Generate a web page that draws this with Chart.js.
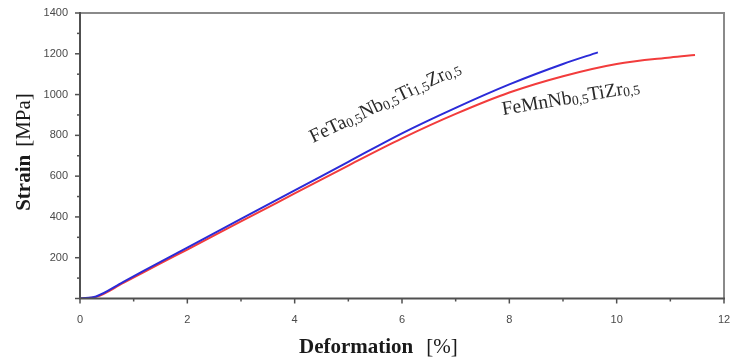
<!DOCTYPE html>
<html>
<head>
<meta charset="utf-8">
<script src="https://cdn.jsdelivr.net/npm/chart.js@4.4.1/dist/chart.umd.min.js"></script>
<style>
  html, body { margin: 0; padding: 0; background: #ffffff; }
  #wrap { width: 731px; height: 360px; position: relative; }
</style>
</head>
<body>
<div id="wrap"><canvas id="c" width="731" height="360"></canvas></div>
<script>
// ---- data ----
const seriesNames = ['FeTa0,5Nb0,5Ti1,5Zr0,5', 'FeMnNb0,5TiZr0,5'];
const blueStrainPct = [0, 0.3, 0.8, 1.5, 2, 3, 4, 5, 6, 7, 8, 9, 9.65];
const blueStressMPa = [0, 10, 80, 180, 250, 390, 530, 670, 810, 935, 1050, 1150, 1207];
const redStrainPct  = [0, 0.3, 0.8, 1.5, 2, 3, 4, 5, 6, 7, 8, 9, 10, 11, 11.46];
const redStressMPa  = [0, 8, 75, 172, 240, 378, 515, 652, 785, 905, 1010, 1090, 1150, 1182, 1194];
const xTickValues = [0, 2, 4, 6, 8, 10, 12];
const yTickValues = [200, 400, 600, 800, 1000, 1200, 1400];
const xTitle = ['Deformation', '[%]'];
const yTitle = ['Strain', '[MPa]'];
// annotation segments: [text, isSubscript]
const labelFeTa = [['FeTa', false], ['0,5', true], ['Nb', false], ['0,5', true], ['Ti', false], ['1,5', true], ['Zr', false], ['0,5', true]];
const labelFeMn = [['FeMnNb', false], ['0,5', true], ['TiZr', false], ['0,5', true]];
const labelFeTaAt = [4.34, 763];
const labelFeMnAt = [7.88, 900];

function pts(xs, ys) { return xs.map((x, i) => ({ x: x, y: ys[i] })); }

const serif = "'Liberation Serif', 'DejaVu Serif', serif";

const framePlugin = {
  id: 'frame',
  afterDraw(chart) {
    const ctx = chart.ctx;
    const a = chart.chartArea;
    const xs = chart.scales.x, ys = chart.scales.y;
    ctx.save();
    // top/right frame
    ctx.strokeStyle = '#8a8a8a';
    ctx.lineWidth = 2;
    ctx.beginPath();
    ctx.moveTo(a.left, a.top); ctx.lineTo(a.right, a.top); ctx.lineTo(a.right, a.bottom);
    ctx.stroke();
    // axes
    ctx.strokeStyle = '#505050';
    ctx.lineWidth = 2;
    ctx.beginPath();
    ctx.moveTo(a.left, a.top - 1); ctx.lineTo(a.left, a.bottom); ctx.lineTo(a.right + 1, a.bottom);
    ctx.stroke();
    // tick marks
    ctx.lineWidth = 1.5;
    xs.ticks.forEach((t, i) => {
      const p = xs.getPixelForTick(i);
      const major = xTickValues.includes(t.value);
      ctx.beginPath(); ctx.moveTo(p, a.bottom); ctx.lineTo(p, a.bottom + (major ? 5 : 3)); ctx.stroke();
    });
    ys.ticks.forEach((t, i) => {
      const p = ys.getPixelForTick(i);
      const major = t.value % 200 === 0;
      ctx.beginPath(); ctx.moveTo(a.left, p); ctx.lineTo(a.left - (major ? 5 : 3), p); ctx.stroke();
    });
    // axis titles
    ctx.fillStyle = '#1a1a1a';
    ctx.textBaseline = 'alphabetic';
    const bold = 'bold 21px ' + serif, norm = '21px ' + serif;
    ctx.font = bold; const w1 = ctx.measureText(xTitle[0]).width;
    ctx.font = norm; const gap = 13;
    let x0 = 299;
    ctx.font = bold; ctx.fillText(xTitle[0], x0, 353);
    ctx.font = norm; ctx.fillText(xTitle[1], x0 + w1 + gap, 353);
    ctx.save();
    ctx.translate(30, 152);
    ctx.rotate(-Math.PI / 2);
    ctx.font = bold; const v1 = ctx.measureText(yTitle[0]).width;
    ctx.font = norm; const v2 = ctx.measureText(yTitle[1]).width;
    const g2 = 8;
    let y0 = -(v1 + g2 + v2) / 2;
    ctx.font = bold; ctx.fillText(yTitle[0], y0, 0);
    ctx.font = norm; ctx.fillText(yTitle[1], y0 + v1 + g2, 0);
    ctx.restore();
    // curve labels
    function drawLabel(segs, at, angleDeg) {
      ctx.save();
      ctx.translate(xs.getPixelForValue(at[0]), ys.getPixelForValue(at[1]));
      ctx.rotate(angleDeg * Math.PI / 180);
      ctx.fillStyle = '#2a2a2a';
      let cx = 0;
      segs.forEach(([txt, sub]) => {
        ctx.font = (sub ? '13.5px ' : '19.5px ') + serif;
        ctx.fillText(txt, cx, sub ? 2 : 0);
        cx += ctx.measureText(txt).width;
      });
      ctx.restore();
    }
    drawLabel(labelFeTa, labelFeTaAt, -25.5);
    drawLabel(labelFeMn, labelFeMnAt, -9.5);
    ctx.restore();
  }
};

new Chart(document.getElementById('c'), {
  type: 'scatter',
  data: {
    datasets: [
      { label: seriesNames[0], data: pts(blueStrainPct, blueStressMPa), showLine: true,
        borderColor: '#2b2bd8', borderWidth: 2, pointRadius: 0, cubicInterpolationMode: 'monotone', fill: false },
      { label: seriesNames[1], data: pts(redStrainPct, redStressMPa), showLine: true,
        borderColor: '#f23c3c', borderWidth: 2, pointRadius: 0, cubicInterpolationMode: 'monotone', fill: false }
    ]
  },
  options: {
    responsive: false,
    animation: false,
    devicePixelRatio: 1,
    layout: { padding: { left: 0, right: 7, top: 13, bottom: 0 } },
    plugins: { legend: { display: false }, tooltip: { enabled: false } },
    scales: {
      x: {
        type: 'linear', min: 0, max: 12,
        grid: { display: false }, border: { display: false },
        ticks: { stepSize: 1, padding: 7, color: '#4a4a4a', maxRotation: 0, autoSkip: false,
                 font: { family: "'Liberation Sans', Arial, sans-serif", size: 11 },
                 callback: v => xTickValues.includes(v) ? String(v) : '' },
        afterFit: s => { s.height = 61.5; s.paddingLeft = 0; s.paddingRight = 0; }
      },
      y: {
        type: 'linear', min: 0, max: 1400,
        grid: { display: false }, border: { display: false },
        ticks: { stepSize: 100, padding: 4, color: '#4a4a4a', autoSkip: false,
                 font: { family: "'Liberation Sans', Arial, sans-serif", size: 11 },
                 callback: v => yTickValues.includes(v) ? String(v) : '' },
        afterFit: s => { s.width = 80; s.paddingTop = 0; s.paddingBottom = 0; }
      }
    }
  },
  plugins: [framePlugin]
});
</script>
</body>
</html>
